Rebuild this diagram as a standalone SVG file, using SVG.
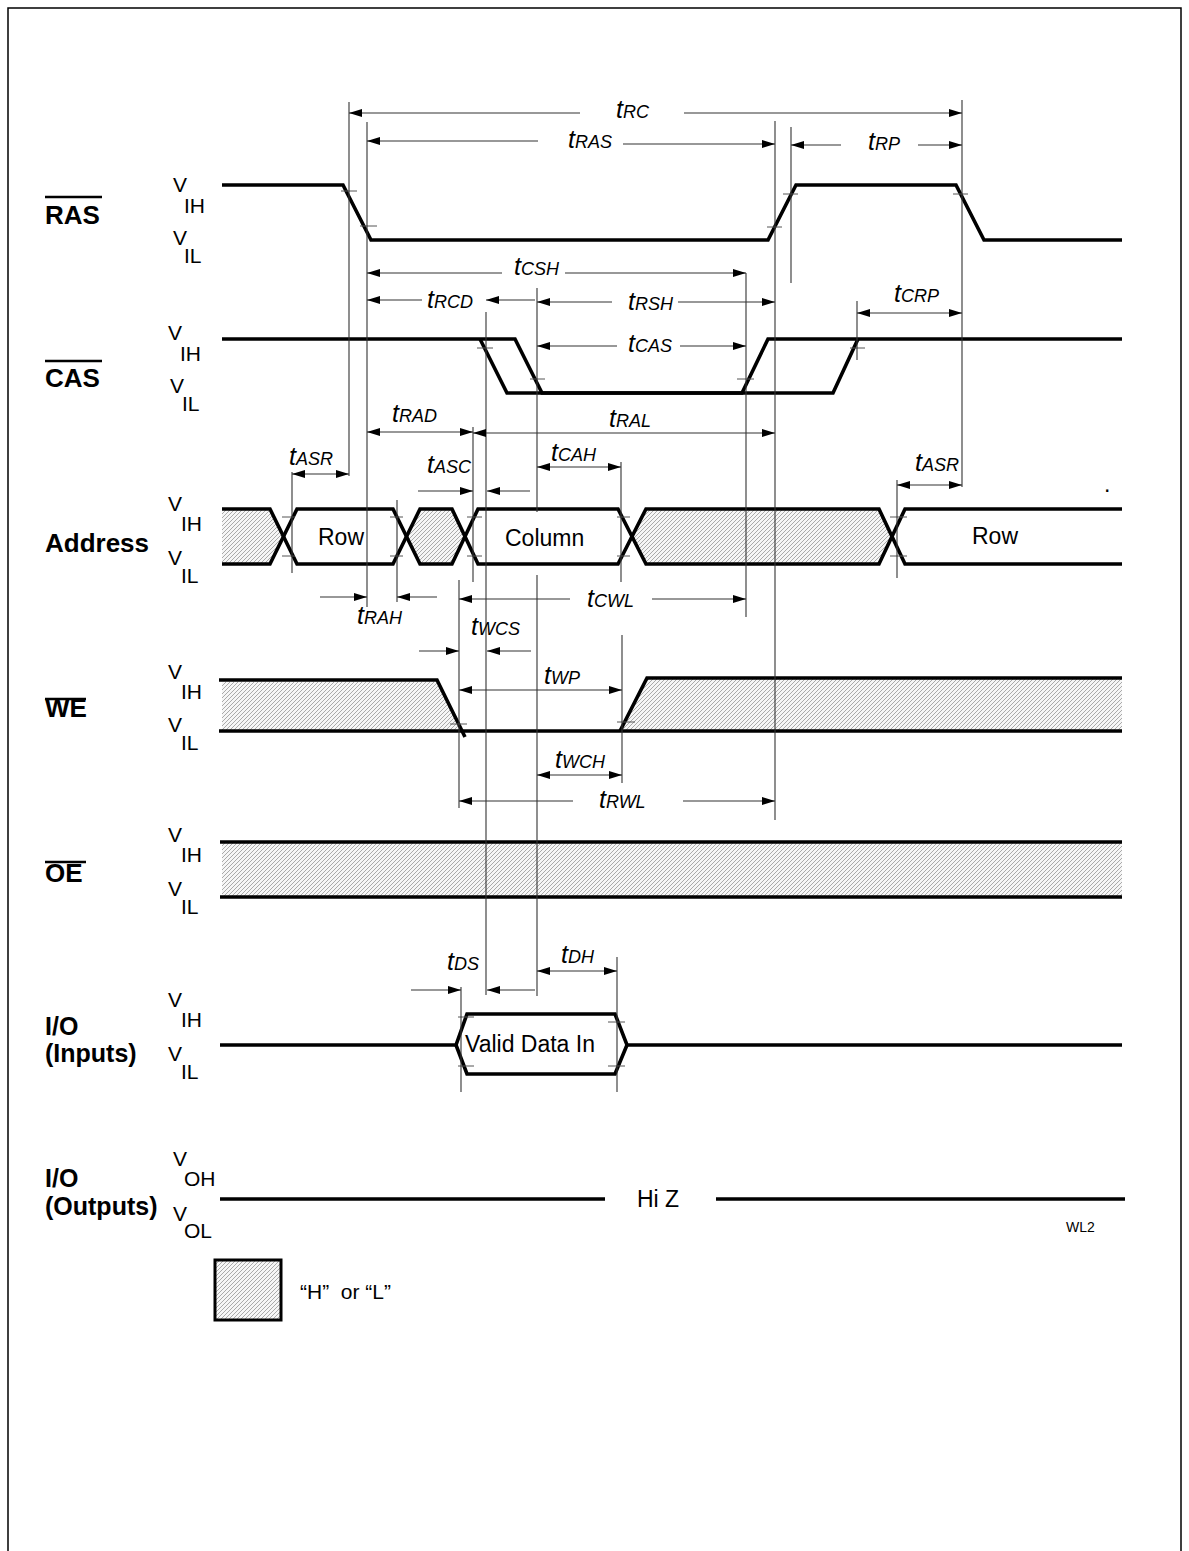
<svg xmlns="http://www.w3.org/2000/svg" width="1189" height="1551" viewBox="0 0 1189 1551">
<defs>
<pattern id="hatch" patternUnits="userSpaceOnUse" width="4" height="4">
<rect width="4" height="4" fill="#f6f6f6"/>
<path d="M-1,1 l2,-2 M0,4 l4,-4 M3,5 l2,-2" stroke="#8a8a8a" stroke-width="0.7"/>
</pattern>
<marker id="ah" markerUnits="userSpaceOnUse" markerWidth="14" markerHeight="8" refX="13" refY="4" orient="auto-start-reverse">
<path d="M0,0 L13,4 L0,8 Z" fill="#000"/>
</marker>
</defs>
<style>
.w{fill:none;stroke:#000;stroke-width:3.6;stroke-linejoin:miter}
.h{fill:url(#hatch);stroke:none}
.v{stroke:#333;stroke-width:1.1;fill:none}
.k{stroke:#555;stroke-width:1;fill:none}
.d{stroke:#333;stroke-width:1.1;fill:none}
.de{marker-end:url(#ah)}
.ds{marker-start:url(#ah)}
.ol{stroke:#000;stroke-width:2.5}
.lbl{font-family:"Liberation Sans",Arial,sans-serif;font-weight:bold;font-size:26px}
.lbl2{font-family:"Liberation Sans",Arial,sans-serif;font-weight:bold;font-size:25px}
.vt{font-family:"Liberation Sans",Arial,sans-serif;font-size:21px}
.t{font-family:"Liberation Sans",Arial,sans-serif;font-style:italic;font-size:25px}
.s{font-size:18px}
.in{font-family:"Liberation Sans",Arial,sans-serif;font-size:23px}
</style>
<rect width="1189" height="1551" fill="#fff"/>
<path d="M8,1551 V8 H1181 V1551" fill="none" stroke="#000" stroke-width="1.5"/>

<g id="labels">
<text class="lbl" x="45" y="224">RAS</text><line class="ol" x1="45" y1="197" x2="102" y2="197"/>
<text class="lbl" x="45" y="387">CAS</text><line class="ol" x1="45" y1="361" x2="102" y2="361"/>
<text class="lbl" x="45" y="552">Address</text>
<text class="lbl" x="45" y="717">WE</text><line class="ol" x1="45" y1="699" x2="86" y2="699"/>
<text class="lbl" x="45" y="882">OE</text><line class="ol" x1="45" y1="862" x2="86" y2="862"/>
<text class="lbl2" x="45" y="1035">I/O</text><text class="lbl2" x="45" y="1062">(Inputs)</text>
<text class="lbl2" x="45" y="1187">I/O</text><text class="lbl2" x="45" y="1215">(Outputs)</text>
<text class="vt" x="173" y="192">V</text><text class="vt" x="184" y="213">IH</text>
<text class="vt" x="173" y="245">V</text><text class="vt" x="184" y="263">IL</text>
<text class="vt" x="168" y="340">V</text><text class="vt" x="180" y="361">IH</text>
<text class="vt" x="170" y="393">V</text><text class="vt" x="182" y="411">IL</text>
<text class="vt" x="168" y="511">V</text><text class="vt" x="181" y="531">IH</text>
<text class="vt" x="168" y="565">V</text><text class="vt" x="181" y="583">IL</text>
<text class="vt" x="168" y="679">V</text><text class="vt" x="181" y="699">IH</text>
<text class="vt" x="168" y="732">V</text><text class="vt" x="181" y="750">IL</text>
<text class="vt" x="168" y="842">V</text><text class="vt" x="181" y="862">IH</text>
<text class="vt" x="168" y="896">V</text><text class="vt" x="181" y="914">IL</text>
<text class="vt" x="168" y="1007">V</text><text class="vt" x="181" y="1027">IH</text>
<text class="vt" x="168" y="1061">V</text><text class="vt" x="181" y="1079">IL</text>
<text class="vt" x="173" y="1166">V</text><text class="vt" x="184" y="1186">OH</text>
<text class="vt" x="173" y="1221">V</text><text class="vt" x="184" y="1238">OL</text>
</g>

<g id="ras">
<path class="w" d="M222,185 H343 L371,240 H768 L796,185 H956 L984,240 H1122"/>
<path class="k" d="M341,191 h16 M360,226 h17 M767,227 h15 M783,194 h15 M953,194 h15"/>
</g>

<g id="cas">
<path class="w" d="M222,339 H515 L542,393 H742 L768,339 H1122"/>
<path class="w" d="M480,339 L507,393 H833 L858,339"/>
<path class="k" d="M477,348 h16 M530,379 h15 M737,379 h17 M850,348 h15"/>
</g>

<g id="address">
<path class="h" d="M222,509 H270 L283.5,536.5 L270,564 H222 Z"/>
<path class="h" d="M406.5,536.5 L420,509 H452 L465,536.5 L452,564 H420 Z"/>
<path class="h" d="M632,536.5 L646,509 H879 L892,536.5 L879,564 H646 Z"/>
<path class="w" d="M222,509 H270 L297,564 H393 L420,509 H452 L478,564 H618 L646,509 H879 L905,564 H1122"/>
<path class="w" d="M222,564 H270 L297,509 H393 L420,564 H452 L478,509 H618 L646,564 H879 L905,509 H1122"/>
<path class="k" d="M282,517 h13 M282,556 h13 M390,517 h13 M390,556 h13 M467,517 h15 M467,556 h15 M617,517 h13 M617,556 h13 M890,517 h17 M890,556 h17"/>
<text class="in" x="318" y="545">Row</text>
<text class="in" x="505" y="546">Column</text>
<text class="in" x="972" y="544">Row</text>
<text class="in" x="1104" y="492">.</text>
</g>

<g id="we">
<path class="h" d="M222,682 H437 L461,731 H222 Z"/>
<path class="h" d="M621,731 L648,679 H1122 V731 Z"/>
<path class="w" d="M219,680 H437 L465,737"/>
<path class="w" d="M219,731 H1122"/>
<path class="w" d="M620,731 L647,678 H1122"/>
<path class="k" d="M450,724 h17 M617,722 h18"/>
</g>

<g id="oe">
<rect class="h" x="222" y="842" width="900" height="55"/>
<path class="w" d="M220,842 H1122 M220,897 H1122"/>
</g>

<g id="io-in">
<path class="w" d="M220,1045 H456 L467,1014 H615 L627,1045 H1122"/>
<path class="w" d="M456,1045 L467,1074 H615 L627,1045"/>
<path class="k" d="M458,1017 h16 M458,1066 h16 M608,1022 h17 M608,1066 h17"/>
<text class="in" x="465" y="1052">Valid Data In</text>
</g>

<g id="io-out">
<path class="w" d="M220,1199 H605 M716,1199 H1125"/>
<text class="in" x="637" y="1207">Hi Z</text>
</g>

<g id="legend">
<rect x="215" y="1260" width="66" height="60" fill="url(#hatch)" stroke="#000" stroke-width="3"/>
<text class="in" x="300" y="1299" style="font-size:21px;white-space:pre" xml:space="preserve">“H”  or “L”</text>
<text class="in" x="1066" y="1232" style="font-size:14px">WL2</text>
</g>

<g id="connectors">
<path class="v" d="M349,102 V476 M367,122 V607 M775,121 V820 M791,127 V283 M962,100 V487 M746,273 V617 M486,312 V995 M537,288 V512 M537,575 V996 M857,301 V360 M292,472 V573 M397,500 V602 M473,427 V582 M621,462 V582 M897,480 V578 M459,580 V808 M622,635 V783 M461,987 V1092 M617,957 V1092"/>

<line class="d ds" x1="349" y1="113" x2="580" y2="113"/>
<line class="d de" x1="684" y1="113" x2="962" y2="113"/>
<text class="t" x="616" y="118">t<tspan class="s">RC</tspan></text>

<line class="d ds" x1="367" y1="141" x2="538" y2="141"/>
<line class="d de" x1="623" y1="144" x2="775" y2="144"/>
<text class="t" x="568" y="148">t<tspan class="s">RAS</tspan></text>

<line class="d ds" x1="791" y1="145" x2="841" y2="145"/>
<line class="d de" x1="918" y1="145" x2="962" y2="145"/>
<text class="t" x="868" y="150">t<tspan class="s">RP</tspan></text>

<line class="d ds" x1="367" y1="273" x2="502" y2="273"/>
<line class="d de" x1="565" y1="273" x2="746" y2="273"/>
<text class="t" x="514" y="275">t<tspan class="s">CSH</tspan></text>

<line class="d ds" x1="367" y1="300" x2="422" y2="300"/>
<line class="d de" x1="535" y1="300" x2="486" y2="300"/>
<text class="t" x="427" y="308">t<tspan class="s">RCD</tspan></text>

<line class="d ds" x1="537" y1="302" x2="612" y2="302"/>
<line class="d de" x1="678" y1="302" x2="775" y2="302"/>
<text class="t" x="628" y="310">t<tspan class="s">RSH</tspan></text>

<line class="d ds" x1="537" y1="346" x2="617" y2="346"/>
<line class="d de" x1="680" y1="346" x2="746" y2="346"/>
<text class="t" x="628" y="352">t<tspan class="s">CAS</tspan></text>

<line class="d ds de" x1="857" y1="313" x2="962" y2="313"/>
<text class="t" x="894" y="302">t<tspan class="s">CRP</tspan></text>

<line class="d ds de" x1="367" y1="432" x2="473" y2="432"/>
<text class="t" x="392" y="422">t<tspan class="s">RAD</tspan></text>

<line class="d ds de" x1="473" y1="433" x2="775" y2="433"/>
<text class="t" x="609" y="427">t<tspan class="s">RAL</tspan></text>

<line class="d ds de" x1="292" y1="474" x2="349" y2="474"/>
<text class="t" x="289" y="465">t<tspan class="s">ASR</tspan></text>

<line class="d de" x1="418" y1="491" x2="473" y2="491"/>
<line class="d de" x1="530" y1="491" x2="487" y2="491"/>
<text class="t" x="427" y="473">t<tspan class="s">ASC</tspan></text>

<line class="d ds de" x1="537" y1="467" x2="621" y2="467"/>
<text class="t" x="551" y="461">t<tspan class="s">CAH</tspan></text>

<line class="d ds de" x1="897" y1="485" x2="962" y2="485"/>
<text class="t" x="915" y="471">t<tspan class="s">ASR</tspan></text>

<line class="d de" x1="320" y1="597" x2="367" y2="597"/>
<line class="d de" x1="437" y1="597" x2="397" y2="597"/>
<text class="t" x="357" y="624">t<tspan class="s">RAH</tspan></text>

<line class="d de" x1="570" y1="599" x2="459" y2="599"/>
<line class="d de" x1="652" y1="599" x2="746" y2="599"/>
<text class="t" x="587" y="607">t<tspan class="s">CWL</tspan></text>

<line class="d de" x1="419" y1="651" x2="459" y2="651"/>
<line class="d de" x1="531" y1="651" x2="487" y2="651"/>
<text class="t" x="471" y="635">t<tspan class="s">WCS</tspan></text>

<line class="d ds de" x1="459" y1="690" x2="622" y2="690"/>
<text class="t" x="544" y="684">t<tspan class="s">WP</tspan></text>

<line class="d ds de" x1="537" y1="775" x2="622" y2="775"/>
<text class="t" x="555" y="768">t<tspan class="s">WCH</tspan></text>

<line class="d de" x1="573" y1="801" x2="459" y2="801"/>
<line class="d de" x1="683" y1="801" x2="775" y2="801"/>
<text class="t" x="599" y="808">t<tspan class="s">RWL</tspan></text>

<line class="d de" x1="411" y1="990" x2="461" y2="990"/>
<line class="d de" x1="535" y1="990" x2="487" y2="990"/>
<text class="t" x="447" y="970">t<tspan class="s">DS</tspan></text>

<line class="d ds de" x1="537" y1="971" x2="617" y2="971"/>
<text class="t" x="561" y="963">t<tspan class="s">DH</tspan></text>
</g>
</svg>
